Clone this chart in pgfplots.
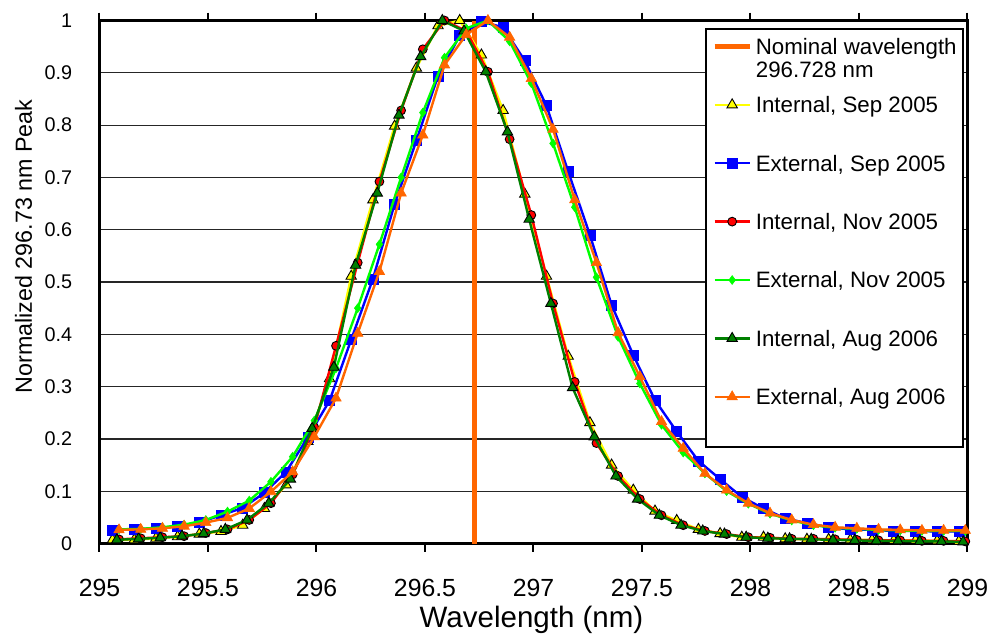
\documentclass[border=0pt]{standalone}
\usepackage{fontspec}
\setmainfont{Liberation Sans}
\usepackage{pgfplots}
\pgfplotsset{compat=1.18}
\usepackage{pgfplotstable}

\definecolor{xlorange}{RGB}{255,102,0}
\definecolor{xlyellow}{RGB}{255,255,0}
\definecolor{xlblue}{RGB}{0,0,255}
\definecolor{xlred}{RGB}{255,0,0}
\definecolor{xllime}{RGB}{0,255,0}
\definecolor{xlgreen}{RGB}{0,128,0}

\newcommand{\lent}[3]{\raisebox{0pt}[#1][#2]{#3}}

\pgfplotstableread{
x y
295.06 0.007
295.16 0.007
295.26 0.010
295.36 0.013
295.46 0.018
295.56 0.023
295.66 0.035
295.76 0.067
295.86 0.112
295.96 0.195
296.06 0.315
296.16 0.511
296.26 0.657
296.36 0.798
296.46 0.909
296.56 0.990
296.66 1.000
296.76 0.934
296.86 0.828
296.96 0.668
297.06 0.511
297.16 0.358
297.26 0.231
297.36 0.150
297.46 0.102
297.56 0.062
297.66 0.044
297.76 0.027
297.86 0.019
297.96 0.012
298.06 0.012
298.16 0.009
298.26 0.008
298.36 0.008
298.46 0.007
298.56 0.007
298.66 0.006
298.76 0.006
298.86 0.005
298.96 0.004
}\intsep

\pgfplotstableread{
x y
295.06 0.026
295.16 0.027
295.26 0.029
295.36 0.033
295.46 0.040
295.56 0.054
295.66 0.068
295.76 0.097
295.86 0.137
295.96 0.203
296.06 0.273
296.16 0.390
296.26 0.506
296.36 0.649
296.46 0.770
296.56 0.894
296.66 0.971
296.76 0.998
296.86 0.987
296.96 0.923
297.06 0.837
297.16 0.711
297.26 0.590
297.36 0.456
297.46 0.360
297.56 0.274
297.66 0.214
297.76 0.158
297.86 0.123
297.96 0.089
298.06 0.067
298.16 0.048
298.26 0.039
298.36 0.031
298.46 0.027
298.56 0.026
298.66 0.024
298.76 0.024
298.86 0.023
298.96 0.023
}\extsep

\pgfplotstableread{
x y
295.09 0.008
295.19 0.010
295.29 0.012
295.39 0.014
295.49 0.020
295.59 0.027
295.69 0.045
295.79 0.077
295.89 0.132
295.99 0.222
296.09 0.378
296.19 0.537
296.29 0.692
296.39 0.828
296.49 0.945
296.59 1.000
296.69 0.980
296.79 0.902
296.89 0.773
296.99 0.628
297.09 0.459
297.19 0.309
297.29 0.192
297.39 0.129
297.49 0.085
297.59 0.054
297.69 0.035
297.79 0.024
297.89 0.018
297.99 0.012
298.09 0.011
298.19 0.009
298.29 0.009
298.39 0.008
298.49 0.007
298.59 0.006
298.69 0.006
298.79 0.005
298.89 0.005
298.99 0.004
}\intnov

\pgfplotstableread{
x y
295.09 0.027
295.19 0.028
295.29 0.031
295.39 0.036
295.49 0.045
295.59 0.061
295.69 0.082
295.79 0.118
295.89 0.166
295.99 0.235
296.09 0.335
296.19 0.450
296.29 0.572
296.39 0.700
296.49 0.824
296.59 0.929
296.69 0.985
296.79 1.000
296.89 0.960
296.99 0.880
297.09 0.765
297.19 0.643
297.29 0.509
297.39 0.395
297.49 0.306
297.59 0.227
297.69 0.174
297.79 0.134
297.89 0.100
297.99 0.076
298.09 0.057
298.19 0.044
298.29 0.035
298.39 0.030
298.49 0.028
298.59 0.026
298.69 0.025
298.79 0.024
298.89 0.024
298.99 0.024
}\extnov

\pgfplotstableread{
x y
295.08 0.007
295.18 0.009
295.28 0.011
295.38 0.014
295.48 0.019
295.58 0.027
295.68 0.045
295.78 0.077
295.88 0.123
295.98 0.220
296.08 0.337
296.18 0.532
296.28 0.670
296.38 0.819
296.48 0.931
296.58 1.000
296.68 0.980
296.78 0.902
296.88 0.787
296.98 0.620
297.08 0.459
297.18 0.298
297.28 0.204
297.38 0.129
297.48 0.085
297.58 0.054
297.68 0.035
297.78 0.024
297.88 0.018
297.98 0.012
298.08 0.010
298.18 0.009
298.28 0.008
298.38 0.007
298.48 0.006
298.58 0.005
298.68 0.005
298.78 0.004
298.88 0.004
298.98 0.003
}\intaug

\pgfplotstableread{
x y
295.09 0.026
295.19 0.027
295.29 0.029
295.39 0.033
295.49 0.040
295.59 0.049
295.69 0.067
295.79 0.099
295.89 0.137
295.99 0.204
296.09 0.278
296.19 0.402
296.29 0.520
296.39 0.670
296.49 0.781
296.59 0.915
296.69 0.973
296.79 1.000
296.89 0.968
296.99 0.889
297.09 0.792
297.19 0.657
297.29 0.537
297.39 0.403
297.49 0.319
297.59 0.233
297.69 0.182
297.79 0.134
297.89 0.102
297.99 0.077
298.09 0.058
298.19 0.045
298.29 0.036
298.39 0.031
298.49 0.029
298.59 0.027
298.69 0.026
298.79 0.025
298.89 0.025
298.99 0.025
}\extaug

\begin{document}
\begin{tikzpicture}
\begin{axis}[
  scale only axis, width=434pt, height=261.5pt,
  at={(0,0)}, anchor=south west,
  xmin=295, xmax=299, ymin=0, ymax=1,
  xtick={295,295.5,296,296.5,297,297.5,298,298.5,299},
  xticklabels={295,295.5,296,296.5,297,297.5,298,298.5,299},
  ytick={0,0.1,0.2,0.3,0.4,0.5,0.6,0.7,0.8,0.9,1},
  yticklabels={0,0.1,0.2,0.3,0.4,0.5,0.6,0.7,0.8,0.9,1},
  tick align=outside, major tick length=4pt,
  xtick style={black, line width=1pt},
  ytick style={draw=none},
  ymajorgrids, grid style={black!85, line width=0.6pt},
  axis line style={black, line width=1.3pt},
  xticklabel style={font=\fontsize{12.4}{14}\selectfont, anchor=base, yshift=-22.5pt},
  yticklabel style={font=\fontsize{9.9}{12}\selectfont, anchor=east, inner sep=0pt, xshift=-9.5pt},
  xlabel={Wavelength (nm)},
  ylabel={Normalized 296.73 nm Peak},
  xlabel style={font=\fontsize{14.75}{17}\selectfont, at={(axis description cs:0.4977,-0.1597)}, anchor=base},
  ylabel style={font=\fontsize{11.65}{14}\selectfont, at={(axis description cs:-0.0778,0.568)}, anchor=base},
  clip mode=individual,
  legend cell align=left,
  legend image code/.code={\draw[mark repeat=2,mark phase=2,#1] plot coordinates {(0pt,3.95pt) (8.75pt,3.95pt) (17.5pt,3.95pt)};},
  legend style={at={(axis description cs:0.6987,0.9837)}, anchor=north west,
    draw=black, line width=1pt, fill=white, outer sep=0pt,
    inner xsep=3.25pt, inner ysep=1.65pt, row sep=16.7pt, column sep=2pt,
    font=\fontsize{11.15}{13}\selectfont,
    cells={anchor=base west},
    nodes={inner sep=0pt}},
]
\addplot[color=xlorange, line width=2.2pt] coordinates {(296.728,0) (296.728,1)};
\addlegendentry{\lent{11pt}{3.75pt}{\vtop{\baselineskip=11.7pt\hbox{Nominal wavelength}\hbox{296.728 nm}}}}
\addplot[color=xlyellow, line width=1.2pt, mark=triangle*, mark size=3pt, mark options={solid, fill=xlyellow, draw=black, line width=0.45pt}] table[x=x,y=y] {\intsep};
\addlegendentry{\lent{11pt}{3pt}{Internal, Sep 2005}}
\addplot[color=xlblue, line width=1.2pt, mark=square*, mark size=2.5pt, mark options={solid, fill=xlblue, draw=xlblue, line width=0.3pt}] table[x=x,y=y] {\extsep};
\addlegendentry{\lent{11pt}{3pt}{External, Sep 2005}}
\addplot[color=xlred, line width=1.2pt, mark=*, mark size=2.2pt, mark options={solid, fill=xlred, draw=black, line width=0.45pt}] table[x=x,y=y] {\intnov};
\addlegendentry{\lent{11pt}{3pt}{Internal, Nov 2005}}
\addplot[color=xllime, line width=1.2pt, mark=diamond*, mark size=2.2pt, mark options={solid, fill=xllime, draw=xllime, line width=0.3pt}] table[x=x,y=y] {\extnov};
\addlegendentry{\lent{11pt}{3pt}{External, Nov 2005}}
\addplot[color=xlgreen, line width=1.2pt, mark=triangle*, mark size=3pt, mark options={solid, fill=xlgreen, draw=black, line width=0.45pt}] table[x=x,y=y] {\intaug};
\addlegendentry{\lent{11pt}{3pt}{Internal, Aug 2006}}
\addplot[color=xlorange, line width=1.2pt, mark=triangle*, mark size=3pt, mark options={solid, fill=xlorange, draw=xlorange, line width=0.3pt}] table[x=x,y=y] {\extaug};
\addlegendentry{\lent{11pt}{3pt}{External, Aug 2006}}
\addlegendimage{empty legend}
\addlegendentry{\lent{0pt}{0pt}{}}
\end{axis}
\pgfresetboundingbox
\path[use as bounding box] (-49.75pt,-45.25pt) rectangle (446.25pt,271.75pt);
\end{tikzpicture}
\end{document}
